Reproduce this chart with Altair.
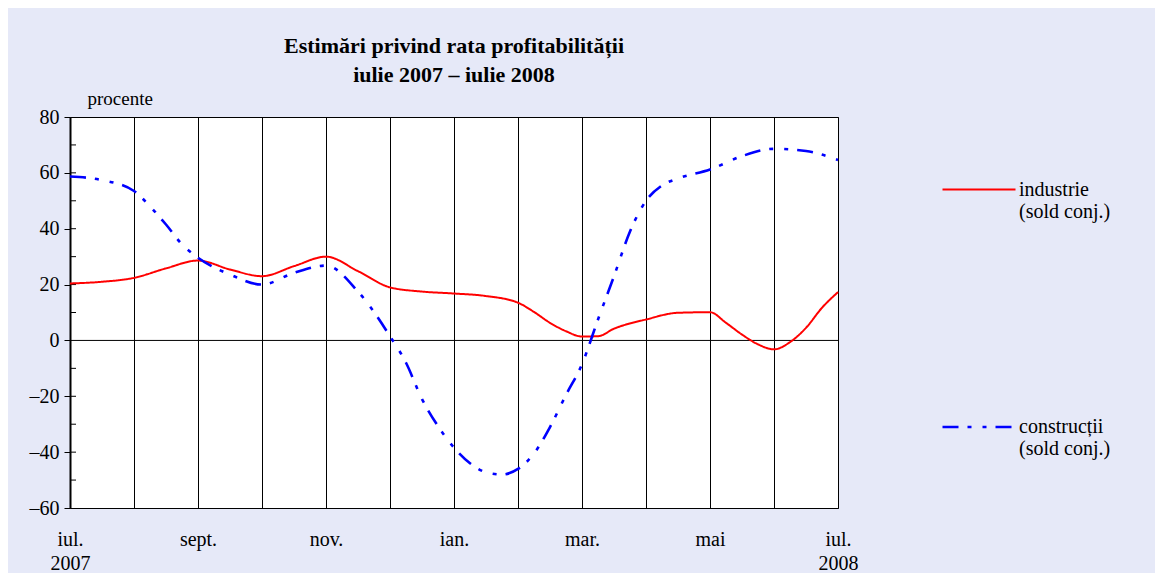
import altair as alt
import pandas as pd

# Month index 0 = iulie 2007 ... 12 = iulie 2008
month_ticks = list(range(13))
month_labels = ["iul.|2007", "", "sept.", "", "nov.", "", "ian.", "", "mar.", "", "mai", "", "iul.|2008"]

series_names = ["industrie", "construcții"]

t_ind = [0, 0.5, 1, 1.5, 2, 2.5, 3, 3.5, 4, 4.5, 5, 5.5, 6, 6.5, 7, 7.25, 7.5, 7.75, 8, 8.25,
         8.5, 9, 9.5, 10, 10.25, 10.5, 10.75, 11, 11.25, 11.5, 11.75, 12]
v_ind = [20.4, 21, 22.4, 25.8, 28.6, 25.4, 23, 26.6, 30, 24.8, 19, 17.5, 16.8, 15.9, 13.5, 10.2,
         6.3, 3.3, 1.4, 1.5, 4.2, 7.5, 9.9, 10.1, 6.3, 2.1, -1.4, -3.2, -0.6, 4.5, 11.7, 17.3]

t_con = [0, 0.5, 1, 1.25, 1.5, 1.75, 2, 2.5, 3, 3.5, 4, 4.5, 5, 5.25, 5.5, 5.75, 6, 6.25, 6.5,
         6.75, 7, 7.25, 7.5, 7.75, 8, 8.25, 8.5, 8.75, 9, 9.25, 9.5, 10, 10.5, 11, 11.5, 12]
v_con = [58.7, 57.4, 53.5, 48, 41.5, 34.4, 29.6, 23.6, 20, 24.2, 26.8, 17.5, 1.5, -8, -21, -30.7,
         -38.4, -44, -47.2, -48, -46, -40.5, -31, -19.5, -8.5, 7.5, 23, 39, 50, 55.5, 58, 61.2,
         66, 68.6, 67.8, 64.6]

y_major = [-60, -40, -20, 0, 20, 40, 60, 80]
y_minor = [-50, -40, -30, -20, -10, 10, 20, 30, 40, 50, 60, 70]

df = pd.concat([
    pd.DataFrame({"t": t_ind, "v": v_ind, "series": series_names[0]}),
    pd.DataFrame({"t": t_con, "v": v_con, "series": series_names[1]}),
])

FONT = "Liberation Serif"

label_js = "[" + ",".join(
    "[" + ",".join("'" + p + "'" for p in lab.split("|")) + "]" if "|" in lab else "'" + lab + "'"
    for lab in month_labels
) + "][datum.value]"

x_scale = alt.Scale(domain=[0, 12], nice=False, zero=False)
y_scale = alt.Scale(domain=[-60, 80], nice=False)

legend_kw = dict(title=None, orient="none", legendX=871, legendY=35,
                 symbolType="stroke", symbolSize=5329,
                 symbolStrokeWidth=2.5, rowPadding=167, padding=0,
                 labelFont=FONT, labelFontSize=20, labelColor="#000000",
                 labelOffset=2, labelLimit=0, labelBaseline="middle",
                 labelExpr="[datum.label, '(sold conj.)']")

lines = alt.Chart(df).mark_line(interpolate="monotone").encode(
    x=alt.X("t:Q", scale=x_scale,
            axis=alt.Axis(values=month_ticks, labelExpr=label_js, grid=True, gridColor="#000000",
                          gridOpacity=1, gridWidth=1, ticks=False, domain=False,
                          labelFont=FONT, labelFontSize=20, labelColor="#000000",
                          labelPadding=21, labelLineHeight=24, labelAngle=0,
                          labelOverlap=False, labelFlush=False, title=None)),
    y=alt.Y("v:Q", scale=y_scale,
            axis=alt.Axis(values=y_major, grid=False, domainColor="#000000", domainWidth=2,
                          tickColor="#000000", tickSize=6, tickWidth=1,
                          labelFont=FONT, labelFontSize=20, labelColor="#000000", labelPadding=5,
                          labelExpr="datum.value < 0 ? '–' + abs(datum.value) : datum.label",
                          title="procente", titleAngle=0, titleAlign="left",
                          titleBaseline="alphabetic", titleX=17, titleY=-13,
                          titleFont=FONT, titleFontSize=19, titleFontWeight="normal",
                          titleColor="#000000")),
    color=alt.Color("series:N",
                    scale=alt.Scale(domain=series_names, range=["#ff0000", "#0000ff"]),
                    legend=alt.Legend(**legend_kw)),
    strokeDash=alt.StrokeDash("series:N",
                              scale=alt.Scale(domain=series_names,
                                              range=[[1, 0], [16, 9, 4, 11, 4, 9]]),
                              legend=alt.Legend(**legend_kw)),
    strokeWidth=alt.StrokeWidth("series:N",
                                scale=alt.Scale(domain=series_names, range=[2, 2.6]),
                                legend=None),
)

zero_line = alt.Chart(pd.DataFrame({"v": [0]})).mark_rule(color="#000000", strokeWidth=1).encode(
    y=alt.Y("v:Q", scale=y_scale)
)

minor_ticks = alt.Chart(pd.DataFrame({"v": y_minor})).mark_rule(color="#000000", strokeWidth=1).encode(
    y=alt.Y("v:Q", scale=y_scale),
    x=alt.value(0),
    x2=alt.value(6),
)

chart = alt.layer(zero_line, minor_ticks, lines).properties(
    width=768,
    height=391,
    autosize=alt.AutoSizeParams(type="none"),
    padding={"left": 62, "top": 109, "right": 317, "bottom": 65},
    background="#e6e9f8",
    title=alt.TitleParams(
        ["Estimări privind rata profitabilității", "iulie 2007 – iulie 2008"],
        font=FONT, fontSize=22, fontWeight="bold", color="#000000",
        anchor="middle", frame="group", offset=2, lineHeight=29,
    ),
).configure_view(
    fill="#ffffff", stroke="#000000", strokeWidth=1
)

chart.save("out.html", embed_options={"renderer": "svg", "actions": False})
